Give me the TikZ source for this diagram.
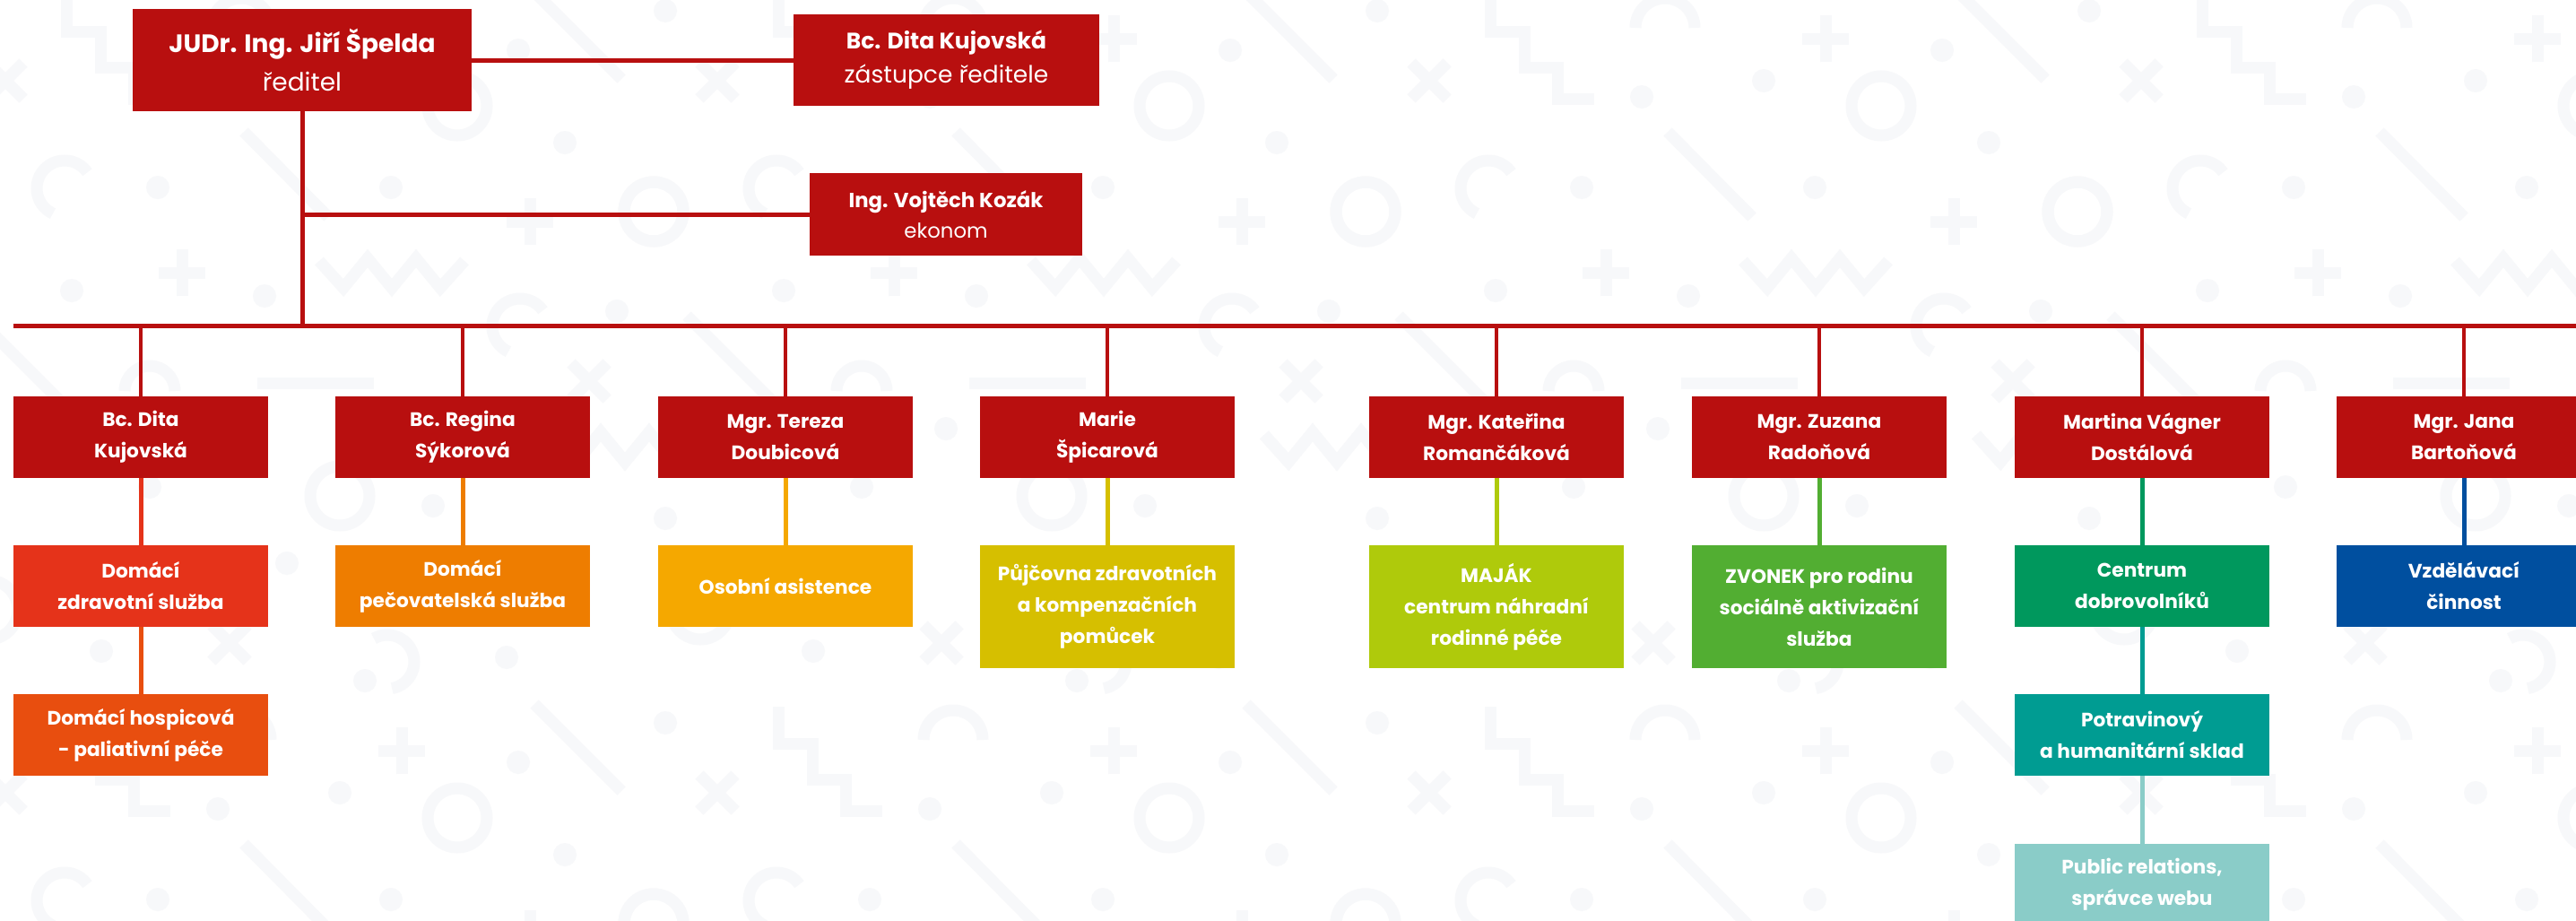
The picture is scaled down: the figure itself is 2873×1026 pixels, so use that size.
\documentclass[tikz,border=0pt]{standalone}
\usepackage{fontspec}
\setmainfont{Poppins}
\definecolor{cred}{HTML}{B80F0F}
\definecolor{czdrav}{HTML}{E5331A}
\definecolor{chosp}{HTML}{E84E0F}
\definecolor{cpecov}{HTML}{EE7D00}
\definecolor{cosob}{HTML}{F5A800}
\definecolor{cpujc}{HTML}{D6BF00}
\definecolor{cmajak}{HTML}{AFCA0B}
\definecolor{czvon}{HTML}{52AE32}
\definecolor{ccentr}{HTML}{00985D}
\definecolor{cpotr}{HTML}{009C92}
\definecolor{cpr}{HTML}{8ACCC8}
\definecolor{cvzd}{HTML}{004F9F}
\definecolor{cpat}{HTML}{F7F8FA}
\newcommand\patdot[2]{\fill[cpat] (#1,#2) circle[radius=13pt];}
\newcommand\patring[2]{\draw[pat] (#1,#2) circle[radius=33pt];}
\newcommand\patplus[2]{\draw[pat] (#1,#2) ++(-26pt,0pt) -- ++(52pt,0pt) (#1,#2) ++(0pt,-26pt) -- ++(0pt,52pt);}
\newcommand\patx[2]{\draw[pat] (#1,#2) ++(-20pt,-20pt) -- ++(40pt,40pt) (#1,#2) ++(-20pt,20pt) -- ++(40pt,-40pt);}
\newcommand\patzig[2]{\draw[pat, line join=miter] (#1,#2) ++(0,3) -- ++(27,30) -- ++(27,-33) -- ++(27,33) -- ++(27,-33) -- ++(27,33) -- ++(27,-30);}
\newcommand\bgtile{%
  \patdot{36}{12}
  \draw[pat, line join=miter] (162,-6) -- (162,35) -- (200,35) -- (200,75) -- (237,75) -- (237,110) -- (278,110);
  \draw[pat] (357,31) ++(0:33pt) arc[start angle=0, end angle=180, radius=33pt];
  \patplus{536}{43}
  \draw[pat] (684,-9) -- (781,88);
  \patx{94}{90}
  \patdot{467}{90}
  \patdot{331}{108}
  \patdot{666}{56}
  \patring{598}{118}
  \patdot{718}{159}
  \patring{23}{236}
  \patring{817}{236}
  \draw[pat] (160,210) ++(35:31pt) arc[start angle=35, end angle=245, radius=31pt];
  \patdot{264}{209}
  \patdot{524}{209}
  \patplus{679}{247}
  \patplus{291}{304}
  \draw[pat] (360,147) -- (454,242);
  \patzig{444}{288}
  \patdot{168}{324}
  \patdot{383}{330}
  \draw[pat] (668,364) ++(35:31pt) arc[start angle=35, end angle=245, radius=31pt];
  \patdot{776}{347}
  \draw[pat] (60,352) -- (155,447);
  \draw[pat] (255,436) ++(0:28pt) arc[start angle=0, end angle=180, radius=28pt];
  \draw[pat] (375,427) -- (505,427);
  \patx{745}{425}
  \patdot{349}{478}
  \patdot{255}{543}
  \patring{467}{553}
  \patdot{36}{578}
  \patdot{571}{564}
  \patzig{704}{482}
  \patzig{-90}{482}
  \patring{75}{680}
  \patdot{408}{628}
  \patx{344}{717}
  \patdot{201}{726}
  \patdot{653}{733}
  \patdot{495}{759}
  \draw[pat] (520,738) ++(120:30pt) arc[start angle=120, end angle=-80, radius=30pt];
}
\begin{document}
\begin{tikzpicture}[x=1pt,y=-1pt,
  box/.style={rectangle, inner sep=0pt, minimum width=284pt, minimum height=91pt,
    text=white, align=center, font=\bfseries\fontsize{21.7}{35}\selectfont},
  tall/.style={minimum height=137pt},
  bus/.style={draw=cred, line width=5pt},
  drop/.style={draw=cred, line width=4pt},
  link/.style={line width=5pt},
  pat/.style={draw=cpat, line width=13pt}]
\useasboundingbox (0,0) rectangle (2873,1026);
\fill[white] (0,0) rectangle (2873,1026);

% faint background pattern
\begin{scope}
\clip (0,0) rectangle (2873,1026);
\foreach \dx in {-88,706,1500,2294}{
  \foreach \dy in {0,794}{
    \begin{scope}[shift={(\dx,\dy)}]
      \bgtile
    \end{scope}
  }
}
\end{scope}

% top
\node[box, fill=cred, minimum width=378pt, minimum height=114pt, font=\fontsize{28}{43}\selectfont] (dir) at (337,67) {\textbf{JUDr. Ing. Jiří Špelda}\\ředitel};
\node[box, fill=cred, minimum width=341pt, minimum height=102pt, font=\fontsize{25}{38}\selectfont] (dep) at (1055.5,67) {\textbf{Bc. Dita Kujovská}\\{\fontsize{26.5}{38}\selectfont zástupce ředitele}};
\node[box, fill=cred, minimum width=304pt, minimum height=92pt, font=\fontsize{22.8}{34}\selectfont] (koz) at (1055,239) {\textbf{Ing. Vojtěch Kozák}\\ekonom};

\coordinate (busL) at (15,363);
\coordinate (busR) at (2873,363);
\coordinate (busT) at (337,363);
\coordinate (kozT) at (337,239);

\draw[bus] (dir.east) -- (dep.west);
\draw[bus] (dir.south) -- (busT);
\draw[bus] (kozT) -- (koz.west);
\draw[bus] (busL) -- (busR);

% row 2
\node[box, fill=cred] (n1) at (157,487.5) {Bc. Dita\\Kujovská};
\node[box, fill=cred] (n2) at (516,487.5) {Bc. Regina\\Sýkorová};
\node[box, fill=cred] (n3) at (876,487.5) {Mgr. Tereza\\Doubicová};
\node[box, fill=cred] (n4) at (1235,487.5) {Marie\\Špicarová};
\node[box, fill=cred] (n5) at (1669,487.5) {Mgr. Kateřina\\Romančáková};
\node[box, fill=cred] (n6) at (2029,487.5) {Mgr. Zuzana\\Radoňová};
\node[box, fill=cred] (n7) at (2389,487.5) {Martina Vágner\\Dostálová};
\node[box, fill=cred] (n8) at (2748,487.5) {Mgr. Jana\\Bartoňová};

\foreach \n in {n1,n2,n3,n4,n5,n6,n7,n8}{
  \draw[drop] (\n.north |- busL) -- (\n.north);
}

% row 3
\node[box, fill=czdrav] (s1) at (157,653.5) {Domácí\\zdravotní služba};
\node[box, fill=cpecov] (s2) at (516,653.5) {Domácí\\pečovatelská služba};
\node[box, fill=cosob] (s3) at (876,653.5) {Osobní asistence};
\node[box, tall, fill=cpujc] (s4) at (1235,676.5) {Půjčovna zdravotních\\a kompenzačních\\pomůcek};
\node[box, tall, fill=cmajak] (s5) at (1669,676.5) {MAJÁK\\centrum náhradní\\rodinné péče};
\node[box, tall, fill=czvon] (s6) at (2029,676.5) {ZVONEK pro rodinu\\sociálně aktivizační\\služba};
\node[box, fill=ccentr] (s7) at (2389,653.5) {Centrum\\dobrovolníků};
\node[box, fill=cvzd] (s8) at (2748,653.5) {Vzdělávací\\činnost};

\draw[link, czdrav] (n1) -- (s1);
\draw[link, cpecov] (n2) -- (s2);
\draw[link, cosob] (n3) -- (s3);
\draw[link, cpujc] (n4) -- (s4);
\draw[link, cmajak] (n5) -- (s5);
\draw[link, czvon] (n6) -- (s6);
\draw[link, ccentr] (n7) -- (s7);
\draw[link, cvzd] (n8) -- (s8);

% row 4
\node[box, fill=chosp] (h1) at (157,819.5) {Domácí hospicová\\- paliativní péče};
\node[box, fill=cpotr] (p7) at (2389,819.5) {Potravinový\\a humanitární sklad};
\draw[link, chosp] (s1) -- (h1);
\draw[link, cpotr] (s7) -- (p7);

% row 5
\node[box, fill=cpr] (r7) at (2389,986.5) {Public relations,\\správce webu};
\draw[link, cpr] (p7) -- (r7);
\end{tikzpicture}
\end{document}
